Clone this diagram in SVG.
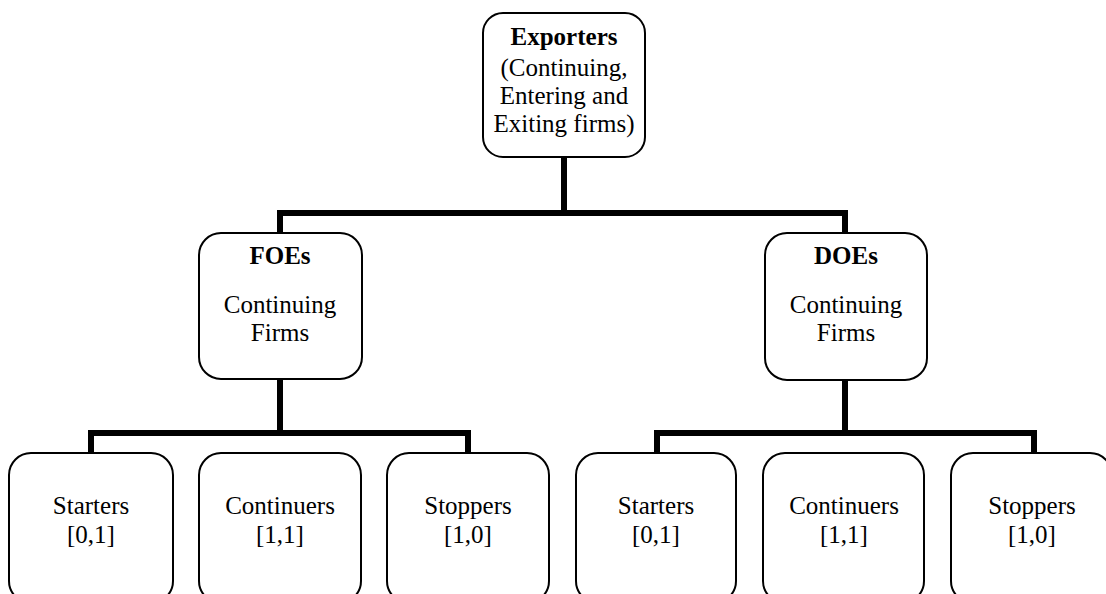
<svg xmlns="http://www.w3.org/2000/svg" width="1106" height="594" viewBox="0 0 1106 594">
<style>
.box{fill:#fff;stroke:#000;stroke-width:2}
.t{font-family:"Liberation Serif","Times New Roman",serif;font-size:25px;fill:#000;text-anchor:middle}
.b{font-weight:bold}
.c{fill:none;stroke:#000;stroke-width:6;stroke-linejoin:miter;stroke-linecap:butt}
</style>
<rect width="1106" height="594" fill="#fff"/>
<g id="connectors">
<path class="c" d="M564 157V213M280 233V213H845V233"/>
<path class="c" d="M280 379V433M91 453V433H468V453"/>
<path class="c" d="M845 380V433M657 453V433H1034V453"/>
</g>
<g id="exporters">
<rect class="box" x="483" y="13" width="162" height="144" rx="20"/>
<text class="t b" x="564" y="45">Exporters</text>
<text class="t" x="564" y="76">(Continuing,</text>
<text class="t" x="564" y="104">Entering and</text>
<text class="t" x="564" y="132">Exiting firms)</text>
</g>
<g id="foes">
<rect class="box" x="199" y="233" width="163" height="146" rx="22"/>
<text class="t b" x="280" y="264">FOEs</text>
<text class="t" x="280" y="313">Continuing</text>
<text class="t" x="280" y="341">Firms</text>
</g>
<g id="does">
<rect class="box" x="765" y="233" width="162" height="147" rx="22"/>
<text class="t b" x="846" y="264">DOEs</text>
<text class="t" x="846" y="313">Continuing</text>
<text class="t" x="846" y="341">Firms</text>
</g>
<g id="foe-starters">
<rect class="box" x="9" y="453" width="164" height="150" rx="22"/>
<text class="t" x="91" y="514">Starters</text>
<text class="t" x="91" y="543">[0,1]</text>
</g>
<g id="foe-continuers">
<rect class="box" x="199" y="453" width="162" height="150" rx="22"/>
<text class="t" x="280" y="514">Continuers</text>
<text class="t" x="280" y="543">[1,1]</text>
</g>
<g id="foe-stoppers">
<rect class="box" x="387" y="453" width="162" height="150" rx="22"/>
<text class="t" x="468" y="514">Stoppers</text>
<text class="t" x="468" y="543">[1,0]</text>
</g>
<g id="doe-starters">
<rect class="box" x="576" y="453" width="160" height="150" rx="22"/>
<text class="t" x="656" y="514">Starters</text>
<text class="t" x="656" y="543">[0,1]</text>
</g>
<g id="doe-continuers">
<rect class="box" x="763" y="453" width="161" height="150" rx="22"/>
<text class="t" x="844" y="514">Continuers</text>
<text class="t" x="844" y="543">[1,1]</text>
</g>
<g id="doe-stoppers">
<rect class="box" x="951" y="453" width="161" height="150" rx="22"/>
<text class="t" x="1032" y="514">Stoppers</text>
<text class="t" x="1032" y="543">[1,0]</text>
</g>
</svg>
